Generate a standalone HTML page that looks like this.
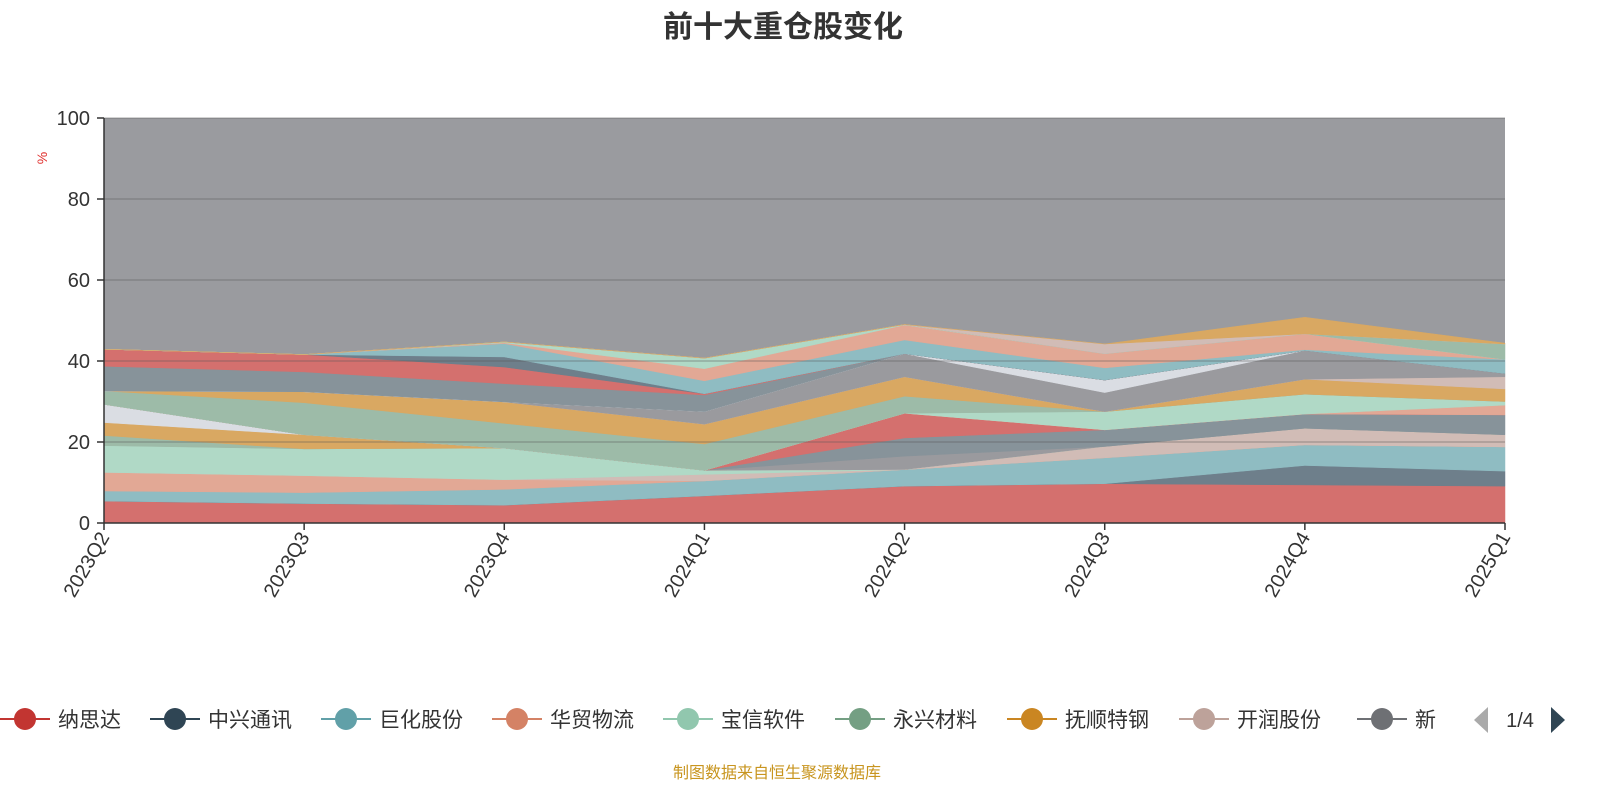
<!DOCTYPE html>
<html><head><meta charset="utf-8"><style>
body{margin:0;background:#fff;}
svg{display:block;font-family:"Liberation Sans","Noto Sans CJK SC",sans-serif;}
</style></head><body>
<svg id="chart" width="1600" height="800" viewBox="0 0 1600 800">
<text x="783" y="37" text-anchor="middle" font-size="30" font-weight="bold" fill="#333">前十大重仓股变化</text>
<text x="0" y="0" transform="translate(47,158) rotate(-90)" text-anchor="middle" font-size="14" fill="#e0302e">%</text>
<g id="plot"></g>
<g id="axes"></g>
<g id="legend"></g>
<text x="777" y="778" text-anchor="middle" font-size="16" fill="#c8951f">制图数据来自恒生聚源数据库</text>
</svg>
<script>
const categories=["2023Q2","2023Q3","2023Q4","2024Q1","2024Q2","2024Q3","2024Q4","2025Q1"];
const yTicks=[0,20,40,60,80,100];
const layerColors=["#d4706e","#6e7f8b","#8fbcc2","#e2a895","#d1bcb6","#b0d9c6","#9dbba8","#d9a862","#dadde3","#9a9a9e","#87939a","#d4706e","#e2a895","#b0d9c6","#9dbba8","#d9a862","#d1bcb6","#9a9a9e","#dadde3","#87939a","#d4706e","#6e7f8b","#8fbcc2","#e2a895","#b0d9c6","#9dbba8","#d1bcb6","#d9a862"];
const s1=[5.4,4.8,4.4,6.7,9.1,9.7,9.4,9.1];
const s2=[0,0,0,0,0,0,4.8,3.7];
const s3=[2.5,2.7,3.9,3.7,4.1,6.4,5.1,6.0];
const s4=[4.6,4.2,2.4,0,0,0,0,0];
const s5=[0,0,0,1.6,0,2.8,4.1,3.0];
const s6=[6.6,6.6,7.8,1,0,0,0,0];
const s7=[2.5,0,0,0,0,0,0,0];
const s8=[3.2,3.5,0,0,0,0,0,0];
const s9=[4.5,0,0,0,0,0,0,0];
const s10=[0,0,0,0,3.3,0,0,0];
const s11=[0,0,0,0,4.5,4.1,3.5,4.9];
const s12=[0,0,0,0,6.1,0,0,0];
const s13=[0,0,0,0,0,0,0,2.4];
const s14=[0,0,0,0,0,4.5,4.9,0.9];
const s15=[3.3,7.9,6.1,6.5,4.2,0,0,0];
const s16=[0,2.7,5.3,4.9,4.8,0,3.7,3.1];
const s17=[0,0,0,0,0,0,0,3.0];
const s18=[0,0,0,3.1,5.7,4.7,7.1,0.8];
const s19=[0,0,0,0,0,3.1,0,0];
const s20=[6.1,4.9,4.5,4.1,0,0,0,0];
const s21=[4.2,4.3,4.1,0.3,0,0,0,0];
const s22=[0,0,2.5,0,0,0,0,0];
const s23=[0,0,3.3,3.2,3.4,3.0,0.2,3.5];
const s24=[0,0,0.2,3.0,3.7,3.5,3.9,0];
const s25=[0,0,0.2,2.6,0.1,0,0,0];
const s26=[0,0,0,0,0,0,0,3.8];
const s27=[0,0,0,0,0,2.4,0,0];
const s28=[0,0,0,0,0,0,4.1,0.2];
const series=[s1,s2,s3,s4,s5,s6,s7,s8,s9,s10,s11,s12,s13,s14,s15,s16,s17,s18,s19,s20,s21,s22,s23,s24,s25,s26,s27,s28];
const legendNames=["纳思达","中兴通讯","巨化股份","华贸物流","宝信软件","永兴材料","抚顺特钢","开润股份","新"];
const legendColors=["#c23531","#2f4554","#61a0a8","#d48265","#91c7ae","#749f83","#ca8622","#bda29a","#6e7074"];

const NS="http://www.w3.org/2000/svg";
const X0=104,X1=1505,Y0=523,Y1=118;
const xs=i=>X0+(X1-X0)*i/(categories.length-1);
const ys=v=>Y0-(Y0-Y1)*v/100;
function mk(tag,attrs,parent){const e=document.createElementNS(NS,tag);for(const k in attrs)e.setAttribute(k,attrs[k]);parent.appendChild(e);return e;}
const plot=document.getElementById('plot'),axes=document.getElementById('axes'),legend=document.getElementById('legend');
const bg=mk('rect',{x:X0,y:Y1,width:X1-X0,height:Y0-Y1,fill:'#9a9b9f'},plot);


let cum=categories.map(()=>0);
series.forEach((s,si)=>{
  const lo=cum.slice();const hi=cum.map((c,i)=>c+s[i]);
  let d='M'+categories.map((_,i)=>xs(i)+','+ys(hi[i])).join(' L');
  for(let i=categories.length-1;i>=0;i--)d+=' L'+xs(i)+','+ys(lo[i]);
  const p=mk('path',{d:d+'Z',fill:layerColors[si],stroke:layerColors[si],'stroke-width':0.5},plot);
  
  
  cum=hi;
});
yTicks.forEach(t=>{
  if(t>0){const g=mk('line',{x1:X0,x2:X1,y1:ys(t),y2:ys(t),stroke:'#555','stroke-opacity':0.35,'stroke-width':1.5},axes);
  
  }
  const tk=mk('line',{x1:X0-7,x2:X0,y1:ys(t),y2:ys(t),stroke:'#333','stroke-width':1.5},axes);
  
  
  const l=mk('text',{x:X0-14,y:ys(t)+7,'text-anchor':'end','font-size':20,fill:'#333'},axes);l.textContent=t;
  
  
});
const ya=mk('line',{x1:X0,x2:X0,y1:Y1,y2:Y0,stroke:'#333','stroke-width':1.5},axes);


const xa=mk('line',{x1:X0,x2:X1,y1:Y0,y2:Y0,stroke:'#333','stroke-width':1.5},axes);


categories.forEach((c,i)=>{
  const tk=mk('line',{x1:xs(i),x2:xs(i),y1:Y0,y2:Y0+7,stroke:'#333','stroke-width':1.5},axes);
  
  
  const t=mk('text',{x:0,y:0,transform:`translate(${xs(i)+6},${Y0+14}) rotate(-60)`,'text-anchor':'end','font-size':20,fill:'#333'},axes);
  t.textContent=c;
  
  
});
const lx=[25,175,346,517,688,860,1032,1204,1382];
legendNames.forEach((n,i)=>{
  const g=mk('g',{},legend);
  
  
  mk('line',{x1:lx[i]-25,x2:lx[i]+25,y1:719,y2:719,stroke:legendColors[i],'stroke-width':2},g);
  mk('circle',{cx:lx[i],cy:719,r:11,fill:legendColors[i]},g);
  const t=mk('text',{x:lx[i]+33,y:727,'font-size':21,fill:'#333'},g);t.textContent=n;
});
const pl=mk('path',{d:'M1488,707 L1488,733 L1474,720Z',fill:'#aaa'},legend);


const pt=mk('text',{x:1520,y:727,'text-anchor':'middle','font-size':20,fill:'#333'},legend);pt.textContent='1/4';


const pr=mk('path',{d:'M1551,707 L1551,733 L1565,720Z',fill:'#2f4554'},legend);


</script>
</body></html>
